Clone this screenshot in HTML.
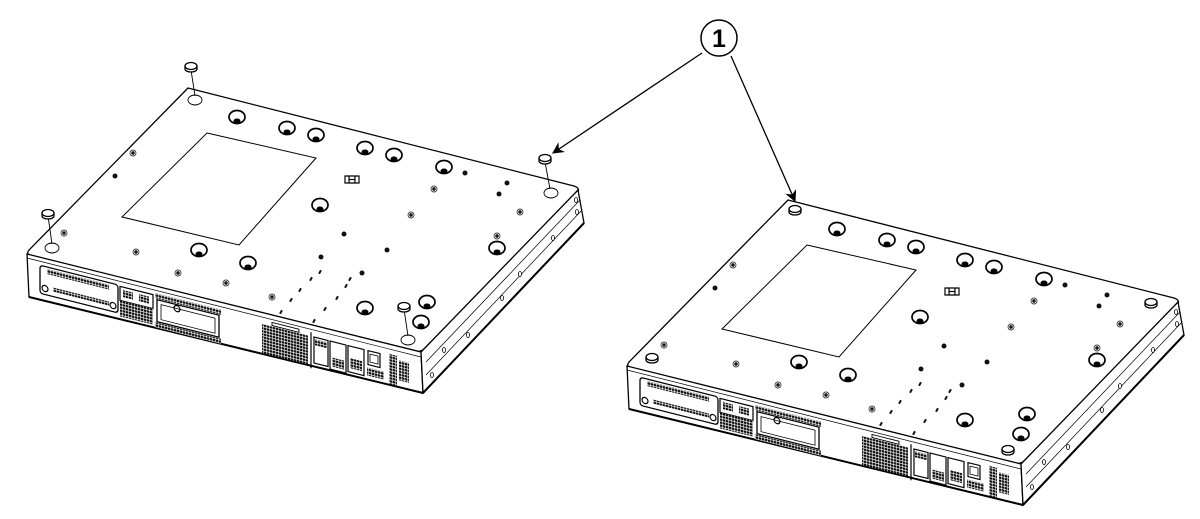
<!DOCTYPE html>
<html><head><meta charset="utf-8"><style>
html,body{margin:0;padding:0;background:#fff;width:1200px;height:519px;overflow:hidden}
svg{display:block}
</style></head><body>
<svg width="1200" height="519" viewBox="0 0 1200 519" xmlns="http://www.w3.org/2000/svg">
<defs>
<pattern id="h" width="3" height="3" patternUnits="userSpaceOnUse">
<rect width="3" height="3" fill="#fff"/><rect width="2.5" height="2.3" fill="#111"/>
</pattern>
<marker id="ar" viewBox="0 0 10 10" refX="9" refY="5" markerWidth="9" markerHeight="9" orient="auto">
<path d="M0,0 L10,5 L0,10 L3,5 z" fill="#000"/></marker>
<g id="hole"><ellipse cx="0" cy="0" rx="8" ry="6.5" fill="none" stroke="#000" stroke-width="1.7"/><ellipse cx="0" cy="4" rx="3" ry="2" fill="#000"/></g>
<g id="scr"><circle r="3" fill="none" stroke="#444" stroke-width="0.9"/><circle r="1.2" fill="#444"/></g>
<g id="dev" fill="none" stroke="#000">
<path d="M188,88 L574,186 Q580,188 578,192 L424,349 Q421,352 417,351 L30,256 Q26,254 29,250 Z" fill="#fff" stroke-width="1.3"/>
<path d="M27,254 L421,352 L423,393 L29,297 Z" fill="#fff" stroke-width="1.3"/>
<path d="M27,258 L421,357" stroke-width="0.7"/>
<path d="M578,190 L584,223 L423,393 L421,352 Z" fill="#fff" stroke-width="1.3"/>
<path d="M580,200 L426,362" stroke-width="0.7"/>
<path d="M582,210 L426,375" stroke-width="0.7"/>
<path d="M584,223 L423,393" stroke-width="2"/>
<path d="M29,297 L423,393" stroke-width="2"/>
<path d="M207,133 L316,158 L239,245 L122,217 Z" stroke-width="1"/>
<path d="M345,176 h14 v7 h-14 z M349,176 v7 M355,176 v7 M349,179.5 h6" stroke-width="1.2"/>
<use href="#hole" x="237" y="117"/><use href="#hole" x="287" y="128"/><use href="#hole" x="316" y="135"/>
<use href="#hole" x="365" y="148"/><use href="#hole" x="394" y="155"/><use href="#hole" x="444" y="167"/>
<use href="#hole" x="320" y="205"/><use href="#hole" x="199" y="250"/><use href="#hole" x="248" y="263"/>
<use href="#hole" x="497" y="248"/><use href="#hole" x="365" y="308"/><use href="#hole" x="427" y="302"/><use href="#hole" x="421" y="322"/>
<use href="#scr" x="133" y="153"/><use href="#scr" x="64" y="233"/><use href="#scr" x="136" y="252"/>
<use href="#scr" x="178" y="273"/><use href="#scr" x="226" y="283"/><use href="#scr" x="272" y="297"/>
<use href="#scr" x="434" y="189"/><use href="#scr" x="411" y="215"/><use href="#scr" x="520" y="212"/><use href="#scr" x="497" y="236"/>
<g fill="#111" stroke="none">
<circle cx="115" cy="176" r="2.5"/><circle cx="465" cy="173" r="2.5"/><circle cx="507" cy="183" r="2.5"/>
<circle cx="499" cy="194" r="2.5"/><circle cx="344" cy="234" r="2.5"/><circle cx="387" cy="250" r="2.5"/>
<circle cx="321" cy="257" r="2.5"/><circle cx="362" cy="273" r="2.5"/>
<rect x="318" y="271" width="4" height="2" transform="rotate(-60 320 272)"/>
<rect x="309" y="278" width="4" height="2" transform="rotate(-60 311 279)"/>
<rect x="298" y="289" width="4" height="2" transform="rotate(-60 300 290)"/>
<rect x="289" y="299" width="4" height="2" transform="rotate(-60 291 300)"/>
<rect x="279" y="311" width="4" height="2" transform="rotate(-60 281 312)"/>
<rect x="348" y="278" width="4" height="2" transform="rotate(-60 350 279)"/>
<rect x="344" y="285" width="4" height="2" transform="rotate(-60 346 286)"/>
<rect x="335" y="297" width="4" height="2" transform="rotate(-60 337 298)"/>
<rect x="323" y="308" width="4" height="2" transform="rotate(-60 325 309)"/>
<rect x="312" y="320" width="4" height="2" transform="rotate(-60 314 321)"/>
</g>
<g fill="#fff" stroke="#000" stroke-width="0.8">
<ellipse cx="576" cy="200" rx="1.5" ry="2.5"/><ellipse cx="577" cy="212" rx="1.5" ry="2.5"/>
<ellipse cx="553" cy="238" rx="1.5" ry="2.5"/><ellipse cx="520" cy="274" rx="1.5" ry="2.5"/>
<ellipse cx="502" cy="298" rx="1.5" ry="2.5"/><ellipse cx="468" cy="335" rx="1.5" ry="2.5"/>
<ellipse cx="444" cy="350" rx="1.5" ry="2.5"/><ellipse cx="432" cy="375" rx="1.5" ry="2.5"/>
</g>
<g transform="matrix(1,0.251,0,1,27,253)">
<rect x="13" y="9" width="78" height="28" rx="3" stroke-width="1.3" fill="#fff"/>
<rect x="20" y="11" width="62" height="5" fill="url(#h)" stroke="none"/>
<rect x="26" y="28" width="56" height="4" fill="url(#h)" stroke="none"/>
<circle cx="18" cy="31" r="3" stroke-width="1.2"/><circle cx="86" cy="31" r="3" stroke-width="1.2"/>
<rect x="93" y="10" width="33" height="14" stroke-width="1.2"/>
<rect x="96" y="13" width="10" height="7" fill="url(#h)" stroke="none"/><rect x="112" y="13" width="10" height="7" fill="url(#h)" stroke="none"/>
<rect x="93" y="24" width="33" height="16" fill="url(#h)" stroke="none"/>
<rect x="128" y="8" width="66" height="5" fill="url(#h)" stroke="none"/>
<rect x="130" y="14" width="62" height="22" stroke-width="1.3"/>
<rect x="134" y="18" width="54" height="15" stroke-width="0.8"/>
<circle cx="150" cy="18" r="3" stroke-width="1.2"/>
<rect x="128" y="37" width="66" height="5" fill="url(#h)" stroke="none"/>
<rect x="235" y="12" width="46" height="29" fill="url(#h)" stroke="none"/>
<rect x="245" y="8" width="27" height="3" stroke-width="0.9"/>
<path d="M284,8 V44" stroke-width="1.2"/>
<rect x="287" y="12" width="14" height="26" stroke-width="1.2"/><rect x="288" y="14" width="12" height="6" fill="url(#h)" stroke="none"/>
<rect x="303" y="12" width="16" height="28" stroke-width="1.2"/><rect x="305" y="28" width="12" height="9" fill="url(#h)" stroke="none"/>
<rect x="321" y="12" width="16" height="26" stroke-width="1.2"/><rect x="323" y="24" width="12" height="10" fill="url(#h)" stroke="none"/>
<rect x="341" y="12" width="12" height="14" stroke-width="1.2"/><rect x="343" y="15" width="8" height="8" stroke-width="0.8"/>
<rect x="340" y="29" width="17" height="8" fill="url(#h)" stroke="none"/>
<rect x="362" y="10" width="8" height="30" fill="url(#h)" stroke="none"/>
<rect x="372" y="14" width="10" height="20" fill="url(#h)" stroke="none"/>
</g>
</g>
</defs>

<use href="#dev"/>
<g fill="#fff" stroke="#000" stroke-width="0.9">
<ellipse cx="195" cy="100" rx="7" ry="5"/><ellipse cx="551" cy="193" rx="7" ry="5"/>
<ellipse cx="52" cy="248" rx="7" ry="5"/><ellipse cx="408" cy="340" rx="7" ry="5"/>
<path d="M191,70 L195,96 M545,162 L550,189 M48,216 L52,244 M404,309 L408,336"/>
</g>
<g fill="#fff" stroke="#000" stroke-width="1.3">
<g transform="translate(191,66)"><path d="M-6,0 v3 a6,3 0 0 0 12,0 v-3"/><ellipse rx="6" ry="3.5"/></g>
<g transform="translate(545,158)"><path d="M-6,0 v3 a6,3 0 0 0 12,0 v-3"/><ellipse rx="6" ry="3.5"/></g>
<g transform="translate(48,213)"><path d="M-6,0 v3 a6,3 0 0 0 12,0 v-3"/><ellipse rx="6" ry="3.5"/></g>
<g transform="translate(404,306)"><path d="M-6,0 v3 a6,3 0 0 0 12,0 v-3"/><ellipse rx="6" ry="3.5"/></g>
</g>

<use href="#dev" transform="translate(600,112)"/>
<g fill="#fff" stroke="#000" stroke-width="1.3">
<g transform="translate(795,209)"><path d="M-6,0 v3 a6,3 0 0 0 12,0 v-3"/><ellipse rx="6" ry="3.5"/></g>
<g transform="translate(1151,302)"><path d="M-6,0 v3 a6,3 0 0 0 12,0 v-3"/><ellipse rx="6" ry="3.5"/></g>
<g transform="translate(652,357)"><path d="M-6,0 v3 a6,3 0 0 0 12,0 v-3"/><ellipse rx="6" ry="3.5"/></g>
<g transform="translate(1008,449)"><path d="M-6,0 v3 a6,3 0 0 0 12,0 v-3"/><ellipse rx="6" ry="3.5"/></g>
</g>

<circle cx="719" cy="38" r="18" fill="#fff" stroke="#000" stroke-width="1.5"/>
<text x="719" y="47" text-anchor="middle" font-family="Liberation Sans, sans-serif" font-weight="bold" font-size="25">1</text>
<line x1="702" y1="53" x2="553" y2="153" stroke="#000" stroke-width="1.3" marker-end="url(#ar)"/>
<line x1="731" y1="56" x2="795" y2="201" stroke="#000" stroke-width="1.3" marker-end="url(#ar)"/>
</svg>
</body></html>
